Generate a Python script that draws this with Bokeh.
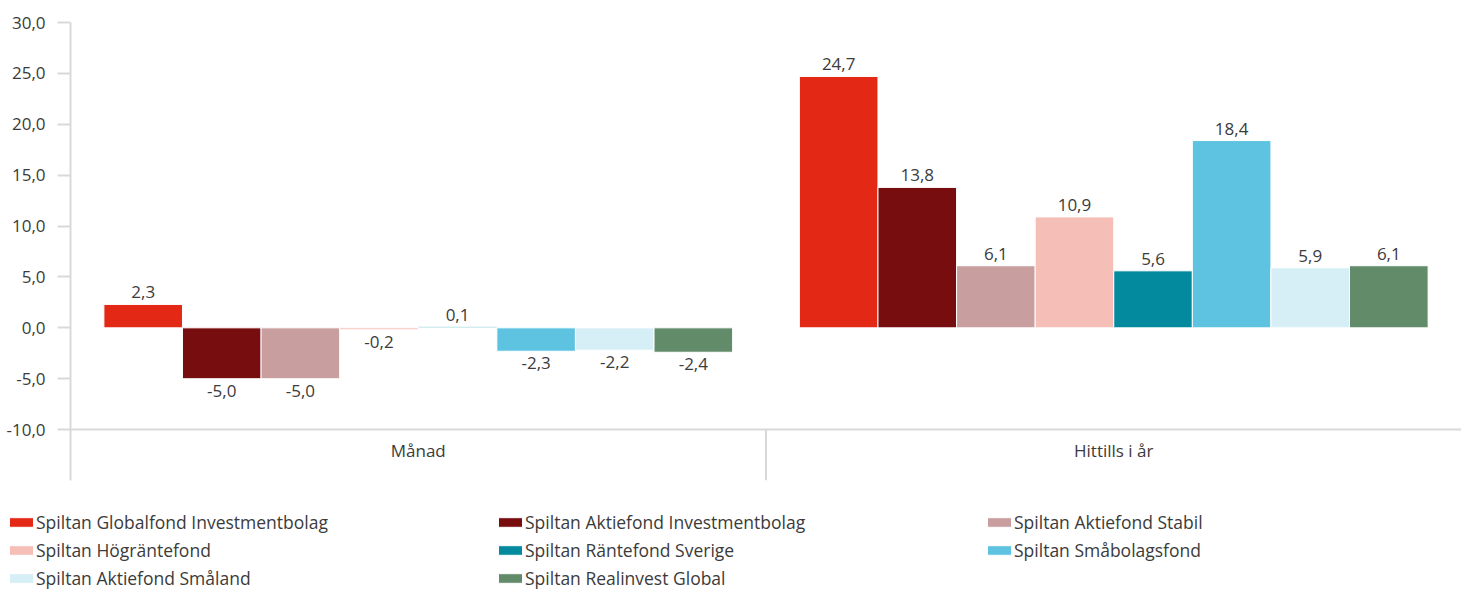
from bokeh.plotting import figure
from bokeh.layouts import column
from bokeh.models import (FactorRange, Range1d, FixedTicker, ColumnDataSource,
                          Legend, LegendItem)
from bokeh.transform import dodge
from bokeh.core.properties import value
from bokeh.embed import file_html
from bokeh.resources import INLINE

periods = ["Månad", "Hittills i år"]
funds = [
    "Spiltan Globalfond Investmentbolag",
    "Spiltan Aktiefond Investmentbolag",
    "Spiltan Aktiefond Stabil",
    "Spiltan Högräntefond",
    "Spiltan Räntefond Sverige",
    "Spiltan Småbolagsfond",
    "Spiltan Aktiefond Småland",
    "Spiltan Realinvest Global",
]
colors = ["#E42816", "#780D10", "#C89E9F", "#F5BFB8",
          "#038A9E", "#5EC3E1", "#D6EEF5", "#628B6A"]
manad = [2.3, -5.0, -5.0, -0.2, 0.1, -2.3, -2.2, -2.4]
hittills = [24.7, 13.8, 6.1, 10.9, 5.6, 18.4, 5.9, 6.1]
yticks = [-10, -5, 0, 5, 10, 15, 20, 25, 30]
ymin, ymax = -10, 30

FONT = "Open Sans"
TXT = "#3b3b3b"
GRID = "#d9d9d9"

p = figure(x_range=FactorRange(*periods), y_range=Range1d(-15, ymax),
           width=1461, height=500, output_backend="svg", toolbar_location=None,
           min_border_left=70, min_border_right=0, min_border_top=22,
           min_border_bottom=20)
p.outline_line_color = None
p.xgrid.visible = False
p.ygrid.visible = False
p.xaxis.visible = False
p.frame_align = False

# separate strip for the legend, so it can span the full width
lg = figure(x_range=p.x_range, y_range=Range1d(1000, 1001),
            width=1461, height=91, output_backend="svg", toolbar_location=None,
            min_border=0, min_border_left=0, min_border_right=0,
            min_border_top=0, min_border_bottom=0)
lg.outline_line_color = None
lg.axis.visible = False
lg.grid.visible = False
lg.frame_align = False

n = len(funds)
bw = 0.113
items = []
for i, f in enumerate(funds):
    vals = [manad[i], hittills[i]]
    src = ColumnDataSource(dict(
        period=periods, val=vals,
        lab=[("%.1f" % v).replace(".", ",") for v in vals],
        base=["bottom" if v >= 0 else "top" for v in vals],
        off=[-6 if v >= 0 else 6 for v in vals],
    ))
    off = (i - (n - 1) / 2) * bw
    style = dict(width=bw, fill_color=colors[i], line_color="white", line_width=1)
    p.vbar(x=dodge("period", off, range=p.x_range), top="val", bottom=0,
           source=src, **style)
    p.text(x=dodge("period", off, range=p.x_range), y="val", text="lab",
           text_baseline="base", y_offset="off", text_align="center",
           text_font=value(FONT), text_font_size="17px", text_color=TXT,
           source=src)
    r = lg.vbar(x=dodge("period", off, range=lg.x_range), top="val", bottom=0,
                source=src, **style)
    items.append(LegendItem(label=f, renderers=[r]))

# category axis: baseline, group separator and labels
axsrc = ColumnDataSource(dict(period=periods, y=[ymin, ymin]))
p.segment(x0=dodge("period", -0.5, range=p.x_range), x1=dodge("period", 0.5, range=p.x_range),
          y0="y", y1="y", source=axsrc, line_color=GRID, line_width=2)
sep = ColumnDataSource(dict(period=[periods[0]], y0=[ymin], y1=[-15]))
p.segment(x0=dodge("period", 0.5, range=p.x_range), x1=dodge("period", 0.5, range=p.x_range),
          y0="y0", y1="y1", source=sep, line_color=GRID, line_width=2)
p.text(x="period", y="y", text="period", source=axsrc, y_offset=9,
       text_baseline="top", text_align="center", text_font=value(FONT),
       text_font_size="17px", text_color=TXT)

ya = p.yaxis[0]
ya.ticker = FixedTicker(ticks=yticks)
ya.major_label_overrides = {t: ("%.1f" % t).replace(".", ",") for t in yticks}
ya.axis_line_color = GRID
ya.axis_line_width = 2
ya.major_tick_line_color = GRID
ya.major_tick_line_width = 2
ya.major_tick_out = 13
ya.major_tick_in = 0
ya.minor_tick_line_color = None
ya.major_label_text_font = FONT
ya.major_label_text_font_size = "17px"
ya.major_label_text_color = TXT
ya.major_label_standoff = 12

legend = Legend(items=items, orientation="horizontal", nrows=3,
                location=(6, 1), glyph_width=30, glyph_height=12,
                label_standoff=0, label_width=455, spacing=4, padding=0,
                margin=0, border_line_color=None, background_fill_alpha=0,
                label_text_font=FONT, label_text_font_size="17.5px",
                label_text_color=TXT, label_height=24)
lg.add_layout(legend, "center")

layout = column(p, lg, spacing=0)
open("out.html", "w").write(file_html(layout, INLINE))
